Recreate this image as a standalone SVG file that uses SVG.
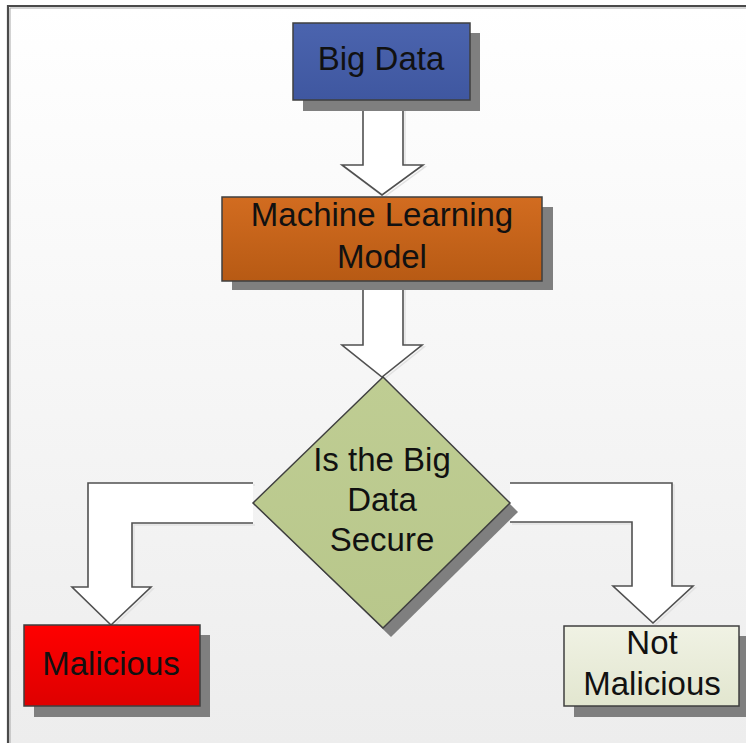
<svg xmlns="http://www.w3.org/2000/svg" width="746" height="743" viewBox="0 0 746 743">
  <defs>
    <linearGradient id="bg" x1="0" y1="0" x2="0" y2="1">
      <stop offset="0" stop-color="#ffffff"/>
      <stop offset="1" stop-color="#ededed"/>
    </linearGradient>
    <linearGradient id="gBlue" x1="0" y1="0" x2="0" y2="1">
      <stop offset="0" stop-color="#4b64ae"/>
      <stop offset="1" stop-color="#3f57a0"/>
    </linearGradient>
    <linearGradient id="gOrange" x1="0" y1="0" x2="0" y2="1">
      <stop offset="0" stop-color="#d26c20"/>
      <stop offset="1" stop-color="#b75a14"/>
    </linearGradient>
    <linearGradient id="gRed" x1="0" y1="0" x2="0" y2="1">
      <stop offset="0" stop-color="#ff0000"/>
      <stop offset="1" stop-color="#de0000"/>
    </linearGradient>
    <linearGradient id="gPale" x1="0" y1="0" x2="0" y2="1">
      <stop offset="0" stop-color="#f0f2e4"/>
      <stop offset="1" stop-color="#e2e6cf"/>
    </linearGradient>
    <linearGradient id="gGreen" x1="0" y1="0" x2="0" y2="1">
      <stop offset="0" stop-color="#bfcd93"/>
      <stop offset="1" stop-color="#b8c78b"/>
    </linearGradient>
  </defs>
  <style>
    .shadow { fill: #7f7f7f; }
    .box { stroke: #3f3f3f; stroke-width: 1.5; }
    .label { font-family: "Liberation Sans", Arial, sans-serif; font-size: 33px; fill: #111; text-anchor: middle; }
    .flow { fill: #ffffff; stroke: #505050; stroke-width: 1.6; stroke-linejoin: miter; }
    .flowHalo { fill: none; stroke: #e2e2e2; stroke-width: 1.5; }
  </style>

  <!-- canvas -->
  <rect x="0" y="0" width="746" height="743" fill="#ffffff"/>
  <rect x="8" y="6" width="738" height="737" fill="url(#bg)"/>
  <path d="M8,743 L8,6 L746,6" fill="none" stroke="#4a4a4a" stroke-width="2.2"/>
  <path d="M10,743 L10,8 L746,8" fill="none" stroke="#a8a8a8" stroke-width="1"/>

  <!-- connectors -->
  <g id="connectors">
    <g transform="translate(2,2)">
      <path class="flowHalo" d="M363,100 L363,165 L342,165 L382,195 L423,165 L403,165 L403,100"/>
      <path class="flowHalo" d="M363,281 L363,345 L342,345 L382,377 L422,345 L403,345 L403,281"/>
      <path class="flowHalo" d="M253,483 L88,483 L88,587 L72,587 L111,625 L151,587 L132,587 L132,523 L253,523"/>
      <path class="flowHalo" d="M510,483 L672,483 L672,586 L693,586 L653,623 L613,586 L632,586 L632,522 L510,522"/>
    </g>
    <path class="flow" d="M363,100 L363,165 L342,165 L382,195 L423,165 L403,165 L403,100"/>
    <path class="flow" d="M363,281 L363,345 L342,345 L382,377 L422,345 L403,345 L403,281"/>
    <path class="flow" d="M253,483 L88,483 L88,587 L72,587 L111,625 L151,587 L132,587 L132,523 L253,523"/>
    <path class="flow" d="M510,483 L672,483 L672,586 L693,586 L653,623 L613,586 L632,586 L632,522 L510,522"/>
  </g>

  <!-- nodes -->
  <g id="big-data">
    <rect class="shadow" x="303" y="33" width="177" height="78"/>
    <rect class="box" x="293" y="23" width="177" height="77" fill="url(#gBlue)"/>
    <text class="label" x="381" y="70">Big Data</text>
  </g>

  <g id="ml-model">
    <rect class="shadow" x="232" y="207" width="321" height="83"/>
    <rect class="box" x="222" y="197" width="320" height="84" fill="url(#gOrange)"/>
    <text class="label" x="382" y="226">Machine Learning</text>
    <text class="label" x="382" y="268">Model</text>
  </g>

  <g id="decision">
    <polygon class="shadow" points="391,386 518,512 391,637 262,512"/>
    <polygon class="box" points="383,377 510,503 383,628 253,503" fill="url(#gGreen)" stroke-width="1"/>
    <text class="label" x="382" y="471">Is the Big</text>
    <text class="label" x="382" y="511">Data</text>
    <text class="label" x="382" y="551">Secure</text>
  </g>

  <g id="malicious">
    <rect class="shadow" x="34" y="635" width="176" height="82"/>
    <rect class="box" x="24" y="625" width="176" height="81" fill="url(#gRed)"/>
    <text class="label" x="111" y="675">Malicious</text>
  </g>

  <g id="not-malicious">
    <rect class="shadow" x="574" y="636" width="175" height="81"/>
    <rect class="box" x="564" y="626" width="175" height="80" fill="url(#gPale)"/>
    <text class="label" x="652" y="654">Not</text>
    <text class="label" x="652" y="695">Malicious</text>
  </g>
</svg>
